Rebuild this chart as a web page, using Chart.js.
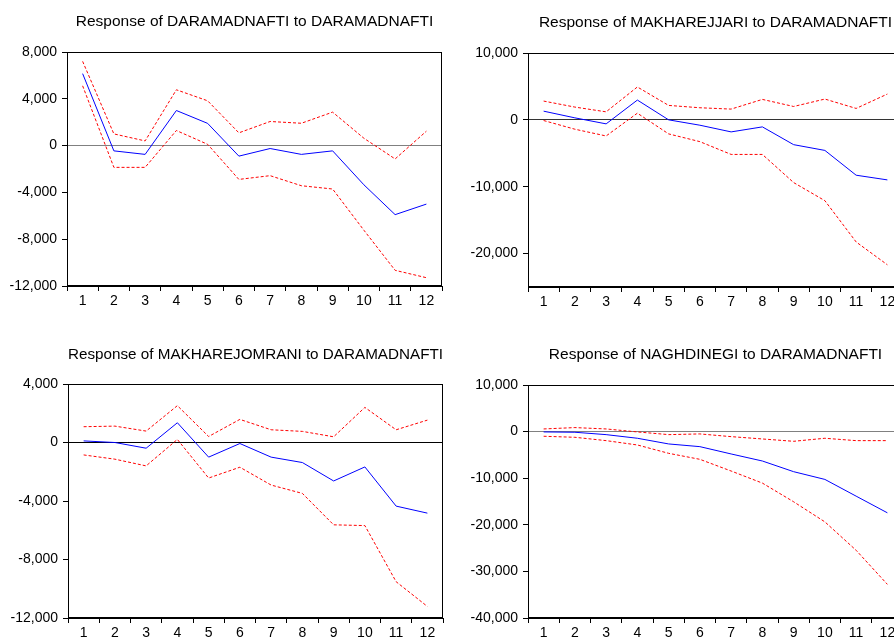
<!DOCTYPE html>
<html>
<head>
<meta charset="utf-8">
<script src="https://cdn.jsdelivr.net/npm/chart.js@4.4.1/dist/chart.umd.min.js"></script>
<style>
  html, body { margin: 0; padding: 0; background: #fff; }
  body { width: 894px; height: 637px; overflow: hidden; position: relative; }
  canvas { position: absolute; }
</style>
</head>
<body>
<canvas id="c1"></canvas>
<canvas id="c2"></canvas>
<canvas id="c3"></canvas>
<canvas id="c4"></canvas>
<script>
const periods = ['1', '2', '3', '4', '5', '6', '7', '8', '9', '10', '11', '12'];

// Response of DARAMADNAFTI
const darResponse = [6150, -450, -750, 3000, 1900, -900, -250, -750, -450, -3350, -5900, -5000];
const darUpper = [7200, 1000, 400, 4770, 3830, 1090, 2060, 1910, 2860, 630, -1140, 1230];
const darLower = [5110, -1860, -1860, 1290, 110, -2890, -2570, -3430, -3710, -7230, -10660, -11290];
const darTicks = [8000, 4000, 0, -4000, -8000, -12000];
const darRange = [-12000, 8000];

// Response of MAKHAREJJARI
const jariResponse = [1300, 300, -600, 2960, 0, -800, -1800, -1050, -3710, -4570, -8280, -8980];
const jariUpper = [2810, 1910, 1200, 4920, 2160, 1810, 1610, 3060, 2000, 3110, 1710, 3860];
const jariLower = [-100, -1400, -2410, 1000, -2100, -3260, -5170, -5170, -9380, -12090, -18260, -21680];
const jariTicks = [10000, 0, -10000, -20000];
const jariRange = [-25000, 10000];

// Response of MAKHAREJOMRANI
const omraniResponse = [110, 0, -390, 1350, -1000, -70, -1000, -1370, -2630, -1670, -4350, -4830];
const omraniUpper = [1080, 1120, 780, 2520, 410, 1580, 870, 760, 390, 2400, 870, 1530];
const omraniLower = [-850, -1140, -1600, 210, -2430, -1690, -2910, -3480, -5630, -5680, -9520, -11210];
const omraniTicks = [4000, 0, -4000, -8000, -12000];
const omraniRange = [-12000, 4000];

// Response of NAGHDINEGI
const naghdResponse = [-70, -140, -650, -1430, -2650, -3230, -4800, -6310, -8600, -10260, -13850, -17430];
const naghdUpper = [570, 860, 570, -70, -650, -500, -1080, -1580, -2080, -1430, -1940, -1940];
const naghdLower = [-1000, -1220, -1940, -2870, -4660, -5950, -8460, -11050, -15060, -19370, -25470, -32780];
const naghdTicks = [10000, 0, -10000, -20000, -30000, -40000];
const naghdRange = [-40000, 10000];

const FONT = 'Arial, "Liberation Sans", sans-serif';

// box around the plot area (top and right side too)
const frame = {
  id: 'frame',
  afterDraw(chart) {
    const a = chart.chartArea, c = chart.ctx;
    c.save();
    c.strokeStyle = '#000';
    c.lineWidth = 1;
    c.strokeRect(Math.round(a.left) + 0.5, Math.round(a.top) + 0.5,
      Math.round(a.right - a.left) - 1, Math.round(a.bottom - a.top) - 1);
    c.restore();
  }
};

function drawPanel(id, box, title, response, upper, lower, yTicks, yRange, zeroColor) {
  const canvas = document.getElementById(id);
  const w = box.right + 5 - box.x;
  const h = box.bottom + 34 - box.y;
  canvas.width = w;
  canvas.height = h;
  canvas.style.left = box.x + 'px';
  canvas.style.top = box.y + 'px';

  const titleSize = 15.5;
  const padTop = box.titleY - box.y - titleSize * 0.6;
  const padBottom = (box.top - box.y) - padTop - titleSize * 1.2;

  new Chart(canvas, {
    type: 'line',
    data: {
      labels: periods,
      datasets: [
        { data: upper, borderColor: '#ff0000', borderWidth: 1, borderDash: [3, 2], pointRadius: 0, fill: false },
        { data: lower, borderColor: '#ff0000', borderWidth: 1, borderDash: [3, 2], pointRadius: 0, fill: false },
        { data: response, borderColor: '#0000ff', borderWidth: 1, pointRadius: 0, fill: false }
      ]
    },
    options: {
      responsive: false,
      animation: false,
      layout: { padding: { top: 0, right: 5, bottom: 0, left: 0 } },
      plugins: {
        legend: { display: false },
        tooltip: { enabled: false },
        title: {
          display: true,
          text: title,
          fullSize: false,
          color: '#000',
          font: { family: FONT, size: titleSize, weight: 'normal' },
          padding: { top: padTop, bottom: padBottom }
        }
      },
      scales: {
        x: {
          offset: true,
          afterFit(s) { s.height = 34; },
          grid: { offset: true, drawOnChartArea: false, tickLength: 5, tickColor: '#000' },
          border: { color: '#000', width: 1 },
          ticks: { color: '#000', font: { family: FONT, size: 14 }, padding: 2, maxRotation: 0, autoSkip: false }
        },
        y: {
          min: yRange[0],
          max: yRange[1],
          afterFit(s) { s.width = box.left - box.x; },
          afterBuildTicks(s) { s.ticks = yTicks.map(v => ({ value: v })); },
          grid: {
            color: ctx => (ctx.tick && ctx.tick.value === 0) ? zeroColor : 'rgba(0,0,0,0)',
            tickColor: '#000',
            tickLength: 5
          },
          border: { color: '#000', width: 1 },
          ticks: {
            color: '#000',
            font: { family: FONT, size: 14 },
            padding: 5,
            callback: v => v.toLocaleString('en-US')
          }
        }
      }
    },
    plugins: [frame]
  });
}

drawPanel('c1', { x: 0, y: 0, left: 67, top: 52, right: 442, bottom: 286, titleY: 22 },
  'Response of DARAMADNAFTI to DARAMADNAFTI', darResponse, darUpper, darLower, darTicks, darRange, '#808080');
drawPanel('c2', { x: 447, y: 0, left: 528, top: 53, right: 903, bottom: 287, titleY: 23 },
  'Response of MAKHAREJJARI to DARAMADNAFTI', jariResponse, jariUpper, jariLower, jariTicks, jariRange, '#333333');
drawPanel('c3', { x: 0, y: 330, left: 68, top: 384, right: 443, bottom: 618, titleY: 355 },
  'Response of MAKHAREJOMRANI to DARAMADNAFTI', omraniResponse, omraniUpper, omraniLower, omraniTicks, omraniRange, '#000000');
drawPanel('c4', { x: 447, y: 330, left: 528, top: 385, right: 903, bottom: 618, titleY: 355 },
  'Response of NAGHDINEGI to DARAMADNAFTI', naghdResponse, naghdUpper, naghdLower, naghdTicks, naghdRange, '#808080');
</script>
</body>
</html>
